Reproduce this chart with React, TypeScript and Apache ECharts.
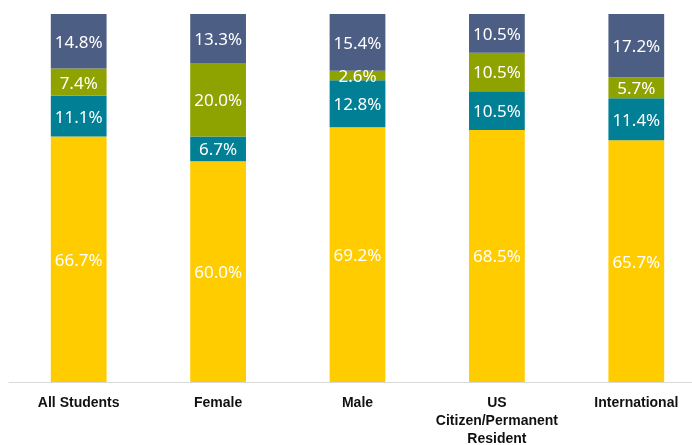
import React, { useEffect, useRef } from "react";
import * as echarts from "echarts";

const categories = ["All Students", "Female", "Male", "US\nCitizen/Permanent\nResident", "International"];
const seriesNames = ["Group 1", "Group 2", "Group 3", "Group 4"];
const values1 = [66.7, 60.0, 69.2, 68.5, 65.7];
const values2 = [11.1, 6.7, 12.8, 10.5, 11.4];
const values3 = [7.4, 20.0, 2.6, 10.5, 5.7];
const values4 = [14.8, 13.3, 15.4, 10.5, 17.2];
const colors = ["#FFCC00", "#007F95", "#8FA300", "#4C5E84"];

export default function App() {
  const ref = useRef<HTMLDivElement>(null);
  useEffect(() => {
    if (!ref.current) return;
    const chart = echarts.init(ref.current, null, { renderer: "svg" });
    const data = [values1, values2, values3, values4];
    chart.setOption({
      animation: false,
      grid: {
        left: 9,
        top: 14,
        width: 697,
        bottom: 63,
        containLabel: false,
        outerBoundsMode: "none",
      },
      xAxis: {
        type: "category",
        data: categories,
        axisLine: { show: true, lineStyle: { color: "#D9D9D9", width: 1 } },
        axisTick: { show: false },
        axisLabel: {
          interval: 0,
          color: "#111",
          fontFamily: "Liberation Sans",
          fontWeight: "bold",
          fontSize: 14,
          lineHeight: 18,
          margin: 11,
        },
      },
      yAxis: {
        type: "value",
        min: 0,
        max: 100,
        show: false,
      },
      series: data.map((vals, i) => ({
        name: seriesNames[i],
        type: "bar",
        stack: "total",
        data: vals,
        barWidth: "40%",
        itemStyle: { color: colors[i] },
        label: {
          show: true,
          position: "inside",
          color: "#fff",
          fontFamily: "Noto Sans",
          fontSize: 17,
          formatter: (p: any) => p.value.toFixed(1) + "%",
        },
      })),
    });
    return () => chart.dispose();
  }, []);
  return (
    <div
      ref={ref}
      style={{ position: "fixed", left: 0, top: 0, width: 692, height: 445, overflow: "hidden" }}
    />
  );
}
